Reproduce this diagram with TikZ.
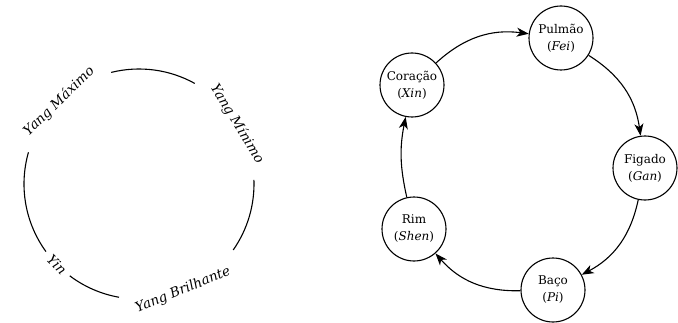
\documentclass[tikz,border=0pt]{standalone}
\usepackage{fontspec}
\setmainfont{DejaVu Serif}
\usetikzlibrary{shapes.geometric, arrows.meta, calc}

\begin{document}
\begin{tikzpicture}[x=1pt,y=1pt]
% Styles
\tikzstyle{organ} = [circle, minimum size=64pt, inner sep=0pt, draw=black, line width=1.1pt, align=center, font=\fontsize{12}{17}\selectfont]
\tikzstyle{phase} = [inner sep=0pt, font=\itshape\fontsize{13.5}{15}\selectfont]
\tikzstyle{ringline} = [line width=1.1pt]
\tikzstyle{arrow} = [line width=1.1pt,->,>={Stealth[length=12pt,width=9pt,inset=3.5pt]}]

\useasboundingbox (0,0) rectangle (678,322);

% Circle of the phases
\coordinate (ring) at (139,138);
\draw [ringline] ($(ring)+(61:115)$) arc (61:104:115);
\draw [ringline] ($(ring)+(-35:115)$) arc (-35:2:115);
\draw [ringline] ($(ring)+(-127:115)$) arc (-127:-100:115);
\draw [ringline] ($(ring)+(164:115)$) arc (164:216:115);

\node (maximo) [phase, rotate=44] at ($(ring)+(134:115)$) {Yang Máximo};
\node (minimo) [phase, rotate=-58.5] at ($(ring)+(31.5:115)$) {Yang Mínimo};
\node (brilhante) [phase, rotate=22.5] at ($(ring)+(-67.5:115)$) {Yang Brilhante};
\node (yin) [phase, rotate=-45.5] at ($(ring)+(-135.5:115)$) {Yin};

% Nodes
\node (coracao) [organ] at (412,237) {Coração\\(\textit{Xin})};
\node (pulmao) [organ] at (561,284) {Pulmão\\(\textit{Fei})};
\node (figado) [organ] at (645,154) {Figado\\(\textit{Gan})};
\node (baco) [organ] at (553,32) {Baço\\(\textit{Pi})};
\node (rim) [organ] at (414,93) {Rim\\(\textit{Shen})};

% Arrows
\draw [arrow] (coracao) to[bend left=25] (pulmao);
\draw [arrow] (pulmao) to[bend left=25] (figado);
\draw [arrow] (figado) to[bend left=25] (baco);
\draw [arrow] (baco) to[bend left=25] (rim);
\draw [arrow] (rim) to[bend left=12] (coracao);
\end{tikzpicture}
\end{document}
